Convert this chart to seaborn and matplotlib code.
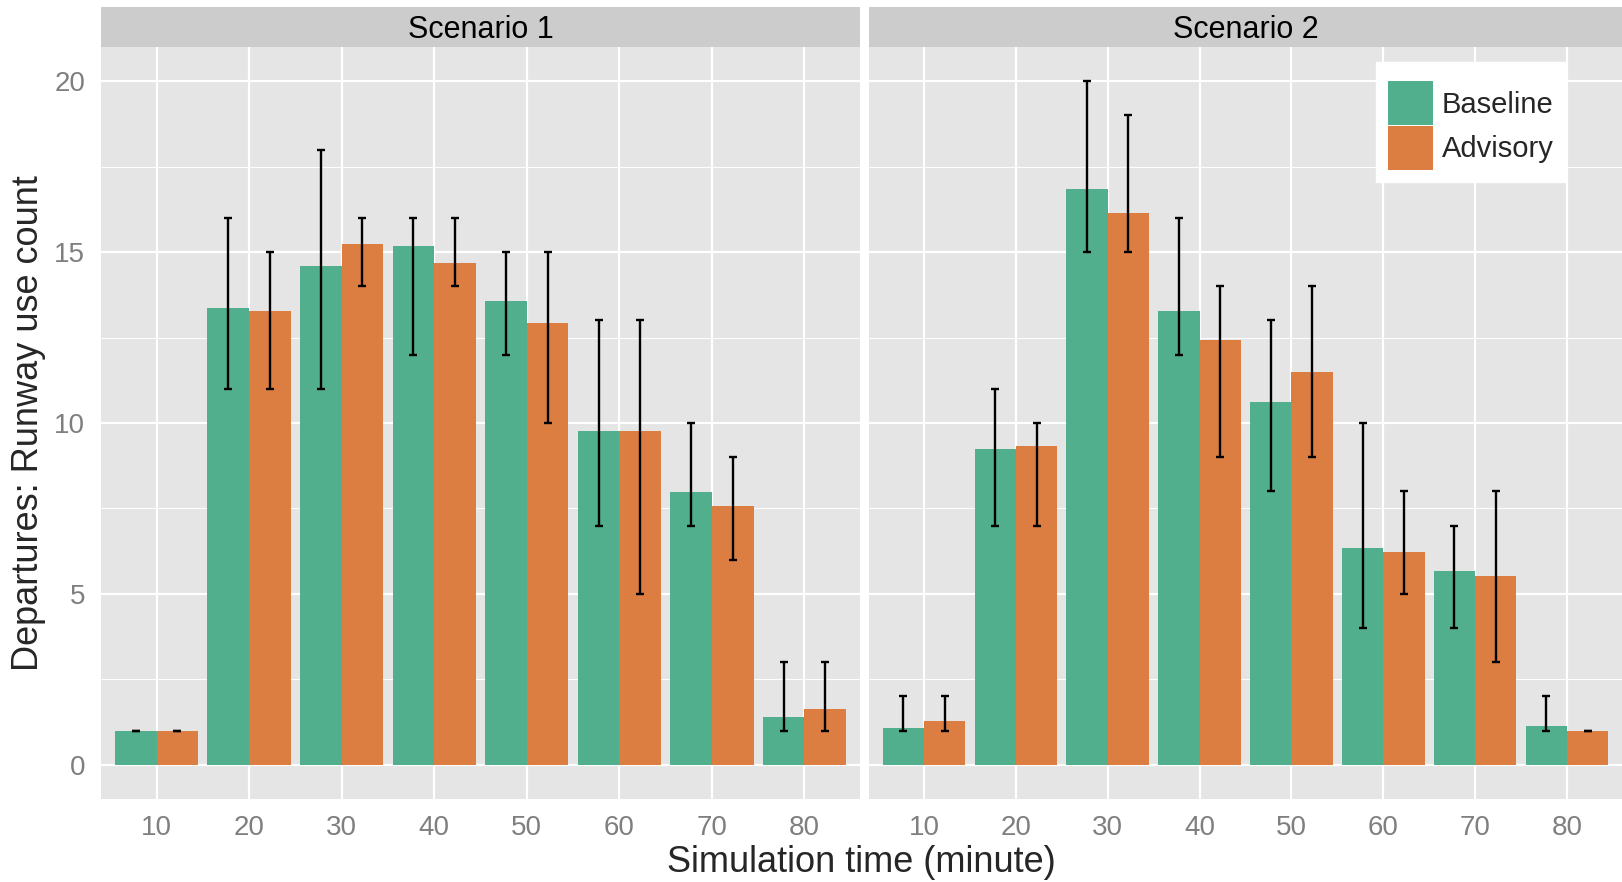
import matplotlib
matplotlib.use("Agg")
import matplotlib.pyplot as plt
from matplotlib.patches import Rectangle, Patch
from matplotlib.ticker import MultipleLocator
import seaborn as sns
import pandas as pd

# ---------------- data ----------------
times = ["10", "20", "30", "40", "50", "60", "70", "80"]
groups = ["Baseline", "Advisory"]
scenarios = ["Scenario 1", "Scenario 2"]

s1_base = [1.00, 13.36, 14.58, 15.18, 13.58, 9.76, 7.97, 1.39]
s1_base_lo = [1, 11, 11, 12, 12, 7, 7, 1]
s1_base_hi = [1, 16, 18, 16, 15, 13, 10, 3]
s1_adv = [1.00, 13.27, 15.24, 14.67, 12.94, 9.76, 7.58, 1.64]
s1_adv_lo = [1, 11, 14, 14, 10, 5, 6, 1]
s1_adv_hi = [1, 15, 16, 16, 15, 13, 9, 3]

s2_base = [1.09, 9.24, 16.85, 13.27, 10.60, 6.33, 5.67, 1.15]
s2_base_lo = [1, 7, 15, 12, 8, 4, 4, 1]
s2_base_hi = [2, 11, 20, 16, 13, 10, 7, 2]
s2_adv = [1.27, 9.33, 16.15, 12.42, 11.50, 6.24, 5.52, 1.00]
s2_adv_lo = [1, 7, 15, 9, 9, 5, 3, 1]
s2_adv_hi = [2, 10, 19, 14, 14, 8, 8, 1]

colors = {"Baseline": "#52AF8E", "Advisory": "#DC7D41"}

rows = []
for scen, series in [
    ("Scenario 1", [("Baseline", s1_base, s1_base_lo, s1_base_hi),
                    ("Advisory", s1_adv, s1_adv_lo, s1_adv_hi)]),
    ("Scenario 2", [("Baseline", s2_base, s2_base_lo, s2_base_hi),
                    ("Advisory", s2_adv, s2_adv_lo, s2_adv_hi)]),
]:
    for grp, vals, los, his in series:
        for t, v, lo, hi in zip(times, vals, los, his):
            rows.append(dict(scenario=scen, time=t, group=grp, value=v, lo=lo, hi=hi))
df = pd.DataFrame(rows)

# ---------------- figure ----------------
sns.set_style("white")
plt.rcParams["font.family"] = ["Liberation Sans", "DejaVu Sans"]

W, H = 1622, 882
fig = plt.figure(figsize=(W / 100, H / 100), dpi=100)

panel_bottom = 799
panel_top = 47
strip_top = 7
panels_x = [(101, 860), (869, 1622)]

axes = []
for (x0, x1) in panels_x:
    ax = fig.add_axes([x0 / W, 1 - panel_bottom / H, (x1 - x0) / W,
                       (panel_bottom - panel_top) / H])
    axes.append(ax)

strip_h = (panel_top - strip_top) / (panel_bottom - panel_top)

for i, (ax, scen) in enumerate(zip(axes, scenarios)):
    sub = df[df.scenario == scen]
    ax.set_facecolor("#E5E5E5")
    sns.barplot(data=sub, x="time", y="value", hue="group", order=times,
                hue_order=groups, palette=colors, width=0.9, errorbar=None,
                saturation=1, linewidth=0, ax=ax, zorder=2)
    # error bars at the bar centres produced by seaborn
    for cont, grp in zip(ax.containers, groups):
        gsub = sub[sub.group == grp].set_index("time").loc[times]
        xs = [p.get_x() + p.get_width() / 2 for p in cont.patches]
        ys = gsub["value"].values
        lo = ys - gsub["lo"].values
        hi = gsub["hi"].values - ys
        ax.errorbar(xs, ys, yerr=[lo, hi], fmt="none", ecolor="black",
                    elinewidth=1.7, capsize=3.2, capthick=1.7, zorder=3)
    if ax.get_legend() is not None:
        ax.get_legend().remove()

    ax.set_xlim(-0.6, 7.6)
    ax.set_ylim(-1, 21)
    ax.yaxis.set_major_locator(MultipleLocator(5))
    ax.yaxis.set_minor_locator(MultipleLocator(2.5))
    ax.set_axisbelow(True)
    ax.grid(which="major", color="white", linewidth=1.6, zorder=0)
    ax.grid(which="minor", axis="y", color="white", linewidth=0.7, zorder=0)
    for s in ax.spines.values():
        s.set_visible(False)
    ax.set_xlabel("")
    ax.set_ylabel("")
    ax.tick_params(axis="both", which="major", colors="#7F7F7F", labelsize=20,
                   length=6.5, width=1.1, pad=5)
    ax.tick_params(axis="y", which="minor", length=0)
    if i == 1:
        ax.tick_params(axis="y", which="both", left=False, labelleft=False)

    # strip
    ax.add_patch(Rectangle((0, 1), 1, strip_h, transform=ax.transAxes,
                           facecolor="#CCCCCC", edgecolor="none", clip_on=False))
    ax.text(0.5, 1 + strip_h / 2, scen, transform=ax.transAxes, ha="center",
            va="center_baseline", fontsize=22, color="black")

# legend
handles = [Patch(facecolor=colors[g], edgecolor="none") for g in groups]
axes[1].legend(handles, groups, loc="upper right", bbox_to_anchor=(0.925, 0.980),
               borderaxespad=0, frameon=True, fancybox=False, framealpha=1,
               edgecolor="white", facecolor="white", fontsize=21,
               title=" ", title_fontsize=5,
               handlelength=1.55, handleheight=1.95, labelspacing=0.02,
               handletextpad=0.3, borderpad=0.4)

fig.text((101 + 1622) / 2 / W, 1 - 862 / H, "Simulation time (minute)",
         ha="center", va="center", fontsize=26)
fig.text(29 / W, 1 - 423 / H, "Departures: Runway use count", ha="center",
         va="center", rotation=90, fontsize=26)

fig.savefig("out.png", dpi=100, facecolor="white")
